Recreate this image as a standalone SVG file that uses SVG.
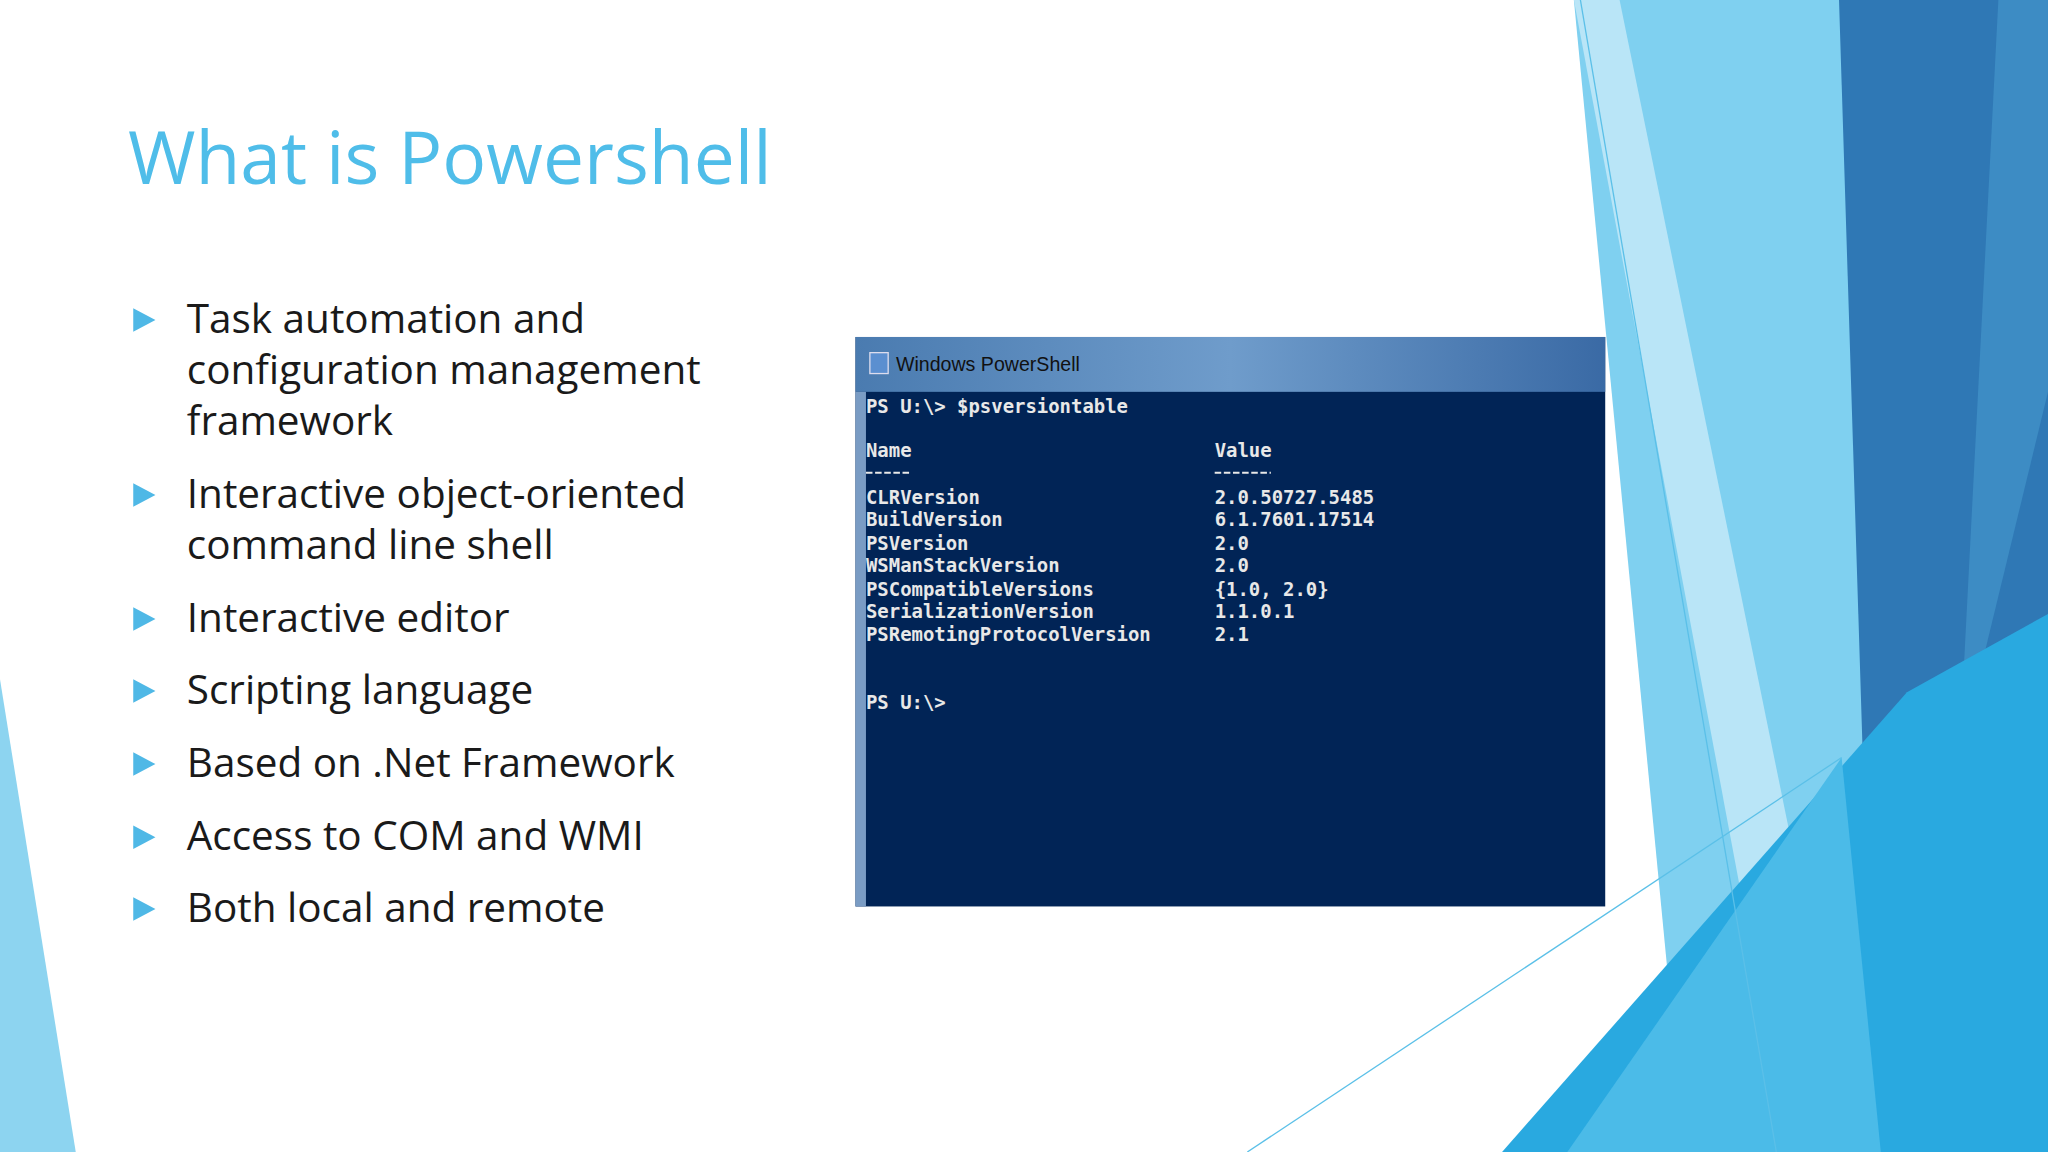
<svg xmlns="http://www.w3.org/2000/svg" width="2048" height="1152" viewBox="0 0 2048 1152">
<style>
.b{font-family:"Open Sans","Noto Sans","Liberation Sans",sans-serif;font-size:31px;fill:#1a1a1a}
.c{font-family:"DejaVu Sans Mono","Liberation Mono",monospace;font-size:14.5px;fill:#e8e8e8;font-weight:bold}
</style>
<defs>
<polygon id="tri" points="0,-9 17,0 0,9" fill="#4fb8e6"/>
<linearGradient id="tb" x1="0" y1="0" x2="1" y2="0"><stop offset="0" stop-color="#4a7bb0"/><stop offset="0.5" stop-color="#6f9ccb"/><stop offset="1" stop-color="#3a6aa5"/></linearGradient>
</defs>
<rect width="2048" height="1152" fill="#ffffff"/>
<g transform="scale(1.30612)">
<g id="decor">
<polygon points="0,520 0,882 58,882" fill="#8dd4f0"/>
<polygon points="1205,0 1410,0 1470,700 1350,882 1290,882" fill="#7fd0f0"/>
<polygon points="1205,0 1240,0 1420,882 1370,882" fill="#b9e5f7"/>
<polygon points="1408,0 1568,0 1568,882 1500,882 1430,700" fill="#2f78b5"/>
<polygon points="1530,0 1568,0 1568,300 1500,580" fill="#3d8cc4"/>
<polygon points="1150,882 1460,530 1568,470 1568,882" fill="#29a9e0"/>
<polygon points="1200,882 1410,580 1440,882" fill="#4bbbe8"/>
<line x1="1210" y1="0" x2="1360" y2="882" stroke="#5bc0e8" stroke-width="1"/>
<line x1="955" y1="882" x2="1410" y2="580" stroke="#5bc0e8" stroke-width="1"/>
</g>
<g id="title"><text x="98" y="141" font-family="Open Sans,Noto Sans,Liberation Sans,sans-serif" font-size="56" fill="#4fbde9">What is Powershell</text></g>
<g id="bullets">
<use href="#tri" x="102" y="245"/><text class="b" x="143" y="255">Task automation and</text><text class="b" x="143" y="294">configuration management</text><text class="b" x="143" y="333">framework</text>
<use href="#tri" x="102" y="379"/><text class="b" x="143" y="389">Interactive object-oriented</text><text class="b" x="143" y="428">command line shell</text>
<use href="#tri" x="102" y="474"/><text class="b" x="143" y="484">Interactive editor</text>
<use href="#tri" x="102" y="529"/><text class="b" x="143" y="539">Scripting language</text>
<use href="#tri" x="102" y="585"/><text class="b" x="143" y="595">Based on .Net Framework</text>
<use href="#tri" x="102" y="641"/><text class="b" x="143" y="651">Access to COM and WMI</text>
<use href="#tri" x="102" y="696"/><text class="b" x="143" y="706">Both local and remote</text>
</g>
<g id="console">
<rect x="655" y="258" width="574" height="436" fill="#012456"/>
<rect x="655" y="258" width="574" height="42" fill="url(#tb)"/>
<rect x="655" y="300" width="8" height="394" fill="#7a9cc4"/>
<rect x="666" y="270" width="14" height="16" fill="#5b8fd0" stroke="#dde" stroke-width="1"/>
<text x="686" y="284" font-family="Liberation Sans,sans-serif" font-size="15" fill="#111">Windows PowerShell</text>
<text class="c" x="663" y="316">PS U:\&gt; $psversiontable</text>
<text class="c" x="663" y="350">Name</text><text class="c" x="930" y="350">Value</text>
<line x1="663" y1="362" x2="697" y2="362" stroke="#e8e8e8" stroke-width="1.5" stroke-dasharray="5,2"/>
<line x1="930" y1="362" x2="973" y2="362" stroke="#e8e8e8" stroke-width="1.5" stroke-dasharray="5,2"/>
<text class="c" x="663" y="386">CLRVersion</text><text class="c" x="930" y="386">2.0.50727.5485</text>
<text class="c" x="663" y="403">BuildVersion</text><text class="c" x="930" y="403">6.1.7601.17514</text>
<text class="c" x="663" y="421">PSVersion</text><text class="c" x="930" y="421">2.0</text>
<text class="c" x="663" y="438">WSManStackVersion</text><text class="c" x="930" y="438">2.0</text>
<text class="c" x="663" y="456">PSCompatibleVersions</text><text class="c" x="930" y="456">{1.0, 2.0}</text>
<text class="c" x="663" y="473">SerializationVersion</text><text class="c" x="930" y="473">1.1.0.1</text>
<text class="c" x="663" y="491">PSRemotingProtocolVersion</text><text class="c" x="930" y="491">2.1</text>
<text class="c" x="663" y="543">PS U:\&gt;</text>
</g>
</g>
</svg>
